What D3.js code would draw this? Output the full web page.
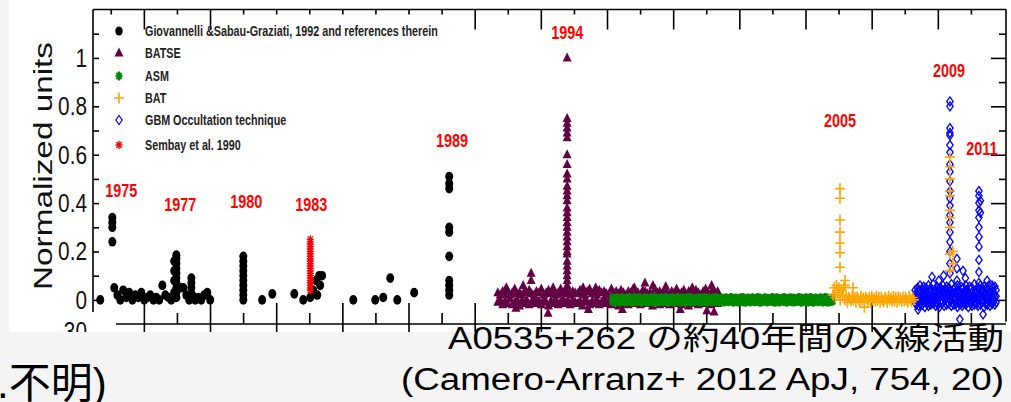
<!DOCTYPE html>
<html>
<head>
<meta charset="utf-8">
<script src="https://cdn.jsdelivr.net/npm/d3@7/dist/d3.min.js"></script>
<style>
  html, body { margin: 0; padding: 0; background: #f4f4f4; }
  svg { display: block; }
</style>
</head>
<body>
<div id="chart-area"></div>
<script>
// Giovannelli & Sabau-Graziati 1992 : [year, normalized flux]
const gioPoints = [
    [1974.80, 0.00],
    [1975.30, 0.34], [1975.30, 0.32], [1975.30, 0.30], [1975.30, 0.24],
    [1975.38, 0.05], [1975.51, 0.02], [1975.63, 0.00], [1975.75, 0.04], [1975.88, 0.01],
    [1976.00, 0.03], [1976.13, 0.00], [1976.25, 0.02], [1976.38, 0.01], [1976.50, 0.03],
    [1976.62, 0.00], [1976.75, 0.01], [1976.87, 0.02], [1977.00, 0.00], [1977.12, 0.01],
    [1977.24, 0.00], [1977.37, 0.06], [1977.49, 0.02], [1977.62, 0.01], [1977.74, 0.00],
    [1977.86, 0.16], [1977.86, 0.12], [1977.86, 0.08], [1977.86, 0.03],
    [1977.95, 0.185], [1977.95, 0.17], [1977.95, 0.15], [1977.95, 0.13], [1977.95, 0.11],
    [1977.95, 0.09], [1977.95, 0.07], [1977.95, 0.05], [1977.95, 0.03], [1977.95, 0.01],
    [1978.11, 0.05], [1978.24, 0.05], [1978.36, 0.02], [1978.48, 0.00],
    [1978.57, 0.09], [1978.57, 0.07], [1978.57, 0.05],
    [1978.61, 0.02], [1978.73, 0.00], [1978.86, 0.01], [1978.98, 0.00], [1979.10, 0.02],
    [1979.23, 0.03], [1979.35, 0.00],
    [1980.72, 0.18], [1980.72, 0.16], [1980.72, 0.14], [1980.72, 0.12], [1980.72, 0.10],
    [1980.72, 0.08], [1980.72, 0.06], [1980.72, 0.04], [1980.72, 0.02], [1980.72, 0.00],
    [1981.50, 0.00], [1981.92, 0.025], [1982.83, 0.025], [1983.20, 0.00],
    [1983.49, 0.01], [1983.61, 0.04], [1983.74, 0.08], [1983.78, 0.02], [1983.86, 0.10],
    [1983.90, 0.06], [1983.98, 0.10],
    [1985.27, 0.00], [1986.18, 0.00], [1986.51, 0.01], [1986.80, 0.09], [1987.09, 0.00],
    [1987.79, 0.03],
    [1989.24, 0.51], [1989.24, 0.48], [1989.24, 0.46], [1989.24, 0.30], [1989.24, 0.28],
    [1989.24, 0.18], [1989.24, 0.08], [1989.24, 0.06], [1989.24, 0.04], [1989.24, 0.02]
];

// Sembay et al. 1990 (1983 outburst)
const sembayYear = 1983.49;
const sembayValues = [0.25, 0.24, 0.23, 0.22, 0.21, 0.20, 0.19, 0.18, 0.17, 0.16, 0.15,
    0.14, 0.13, 0.12, 0.11, 0.10, 0.09, 0.08, 0.07, 0.06, 0.05, 0.04];

// BATSE monitoring, upper and lower envelope of the band, one value every batseDt years
const batseT0 = 1991.25, batseDt = 0.1;
const batseUpper = [0.03, 0.02, 0.035, 0.025, 0.04, 0.02, 0.03, 0.045, 0.025, 0.03,
    0.02, 0.035, 0.03, 0.04, 0.025, 0.02, 0.035, 0.03, 0.045, 0.02,
    0.03, 0.04, 0.025, 0.035, 0.02, 0.03, 0.045, 0.025, 0.03, 0.04,
    0.02, 0.035, 0.03, 0.025, 0.04, 0.03, 0.02, 0.035, 0.045, 0.025,
    0.03, 0.02, 0.04, 0.03, 0.035, 0.025, 0.02, 0.045, 0.03, 0.035,
    0.025, 0.04, 0.03, 0.02, 0.035, 0.03, 0.045, 0.025, 0.03, 0.02,
    0.04, 0.035, 0.025, 0.03, 0.02, 0.045, 0.03, 0.035, 0.025, 0.04,
    0.03, 0.02, 0.035, 0.03, 0.045, 0.025, 0.03, 0.04, 0.02, 0.035,
    0.03, 0.025, 0.04, 0.03, 0.02, 0.035, 0.045, 0.03, 0.025, 0.04,
    0.03, 0.035];
const batseLower = [-0.01, 0.0, -0.02, -0.005, -0.015, 0.005, -0.02, -0.01, 0.0, -0.025,
    -0.005, -0.015, 0.0, -0.02, -0.01, 0.005, -0.015, -0.005, -0.02, 0.0,
    -0.01, -0.025, -0.005, -0.015, 0.0, -0.02, -0.01, 0.005, -0.015, -0.005,
    -0.02, 0.0, -0.01, -0.015, -0.005, -0.025, 0.0, -0.01, -0.02, -0.005,
    -0.015, 0.0, -0.02, -0.01, 0.005, -0.015, -0.005, -0.02, 0.0, -0.01,
    -0.025, -0.005, -0.015, 0.0, -0.02, -0.01, 0.005, -0.015, -0.005, -0.02,
    0.0, -0.01, -0.015, -0.005, -0.025, 0.0, -0.01, -0.02, -0.005, -0.015,
    0.0, -0.02, -0.01, 0.005, -0.015, -0.005, -0.02, 0.0, -0.01, -0.025,
    -0.005, -0.015, 0.0, -0.02, -0.01, 0.005, -0.015, -0.005, -0.02, 0.0,
    -0.01, -0.015];
const batseFlares = [
    [1994.12, 1.00], [1994.12, 0.75], [1994.12, 0.73], [1994.12, 0.71], [1994.12, 0.69],
    [1994.12, 0.67], [1994.12, 0.60], [1994.12, 0.56], [1994.12, 0.52], [1994.12, 0.50],
    [1994.12, 0.47], [1994.12, 0.45], [1994.12, 0.43], [1994.12, 0.41], [1994.12, 0.38],
    [1994.12, 0.36], [1994.12, 0.34], [1994.12, 0.32], [1994.12, 0.30], [1994.12, 0.28],
    [1994.12, 0.26], [1994.12, 0.24], [1994.12, 0.22], [1994.12, 0.20], [1994.12, 0.19],
    [1994.12, 0.16], [1994.12, 0.14], [1994.12, 0.12], [1994.12, 0.10], [1994.12, 0.08],
    [1994.12, 0.06], [1994.12, 0.05], [1994.12, 0.03],
    [1992.63, 0.11], [1992.63, 0.08], [1992.30, 0.06], [1993.54, 0.05], [1994.78, 0.05],
    [1991.60, 0.05], [1995.30, 0.05], [1996.90, 0.05], [1998.20, 0.055], [1999.30, 0.05],
    [2000.10, 0.06], [1997.34, 0.07], [1997.67, 0.06],
    [1993.33, -0.055], [1992.00, -0.035], [1995.00, -0.04], [1996.40, -0.04],
    [1998.80, -0.04], [1999.90, -0.045], [2000.20, -0.05]
];

// RXTE/ASM monitoring
const asmT0 = 1996.0, asmDt = 0.1;
const asmUpper = [0.008, 0.006, 0.01, 0.007, 0.009, 0.005, 0.008, 0.01, 0.006, 0.009,
    0.007, 0.01, 0.005, 0.008, 0.009, 0.006, 0.01, 0.007, 0.008, 0.005,
    0.009, 0.007, 0.01, 0.006, 0.008, 0.009, 0.005, 0.01, 0.007, 0.008,
    0.006, 0.009, 0.01, 0.007, 0.005, 0.008, 0.009, 0.006, 0.01, 0.007,
    0.008, 0.005, 0.009, 0.01, 0.006, 0.008, 0.007, 0.009, 0.005, 0.01,
    0.007, 0.008, 0.006, 0.009, 0.01, 0.005, 0.008, 0.007, 0.009, 0.006,
    0.01, 0.008, 0.005, 0.009, 0.007, 0.006, 0.01, 0.008, 0.009, 0.005,
    0.007, 0.01, 0.006, 0.008, 0.009, 0.007, 0.005, 0.01, 0.008, 0.006,
    0.009, 0.007, 0.01, 0.005, 0.008, 0.006, 0.009, 0.007, 0.01, 0.008,
    0.006, 0.009];
const asmLower = [-0.007, -0.009, -0.005, -0.01, -0.006, -0.008, -0.009, -0.005, -0.01, -0.007,
    -0.008, -0.006, -0.01, -0.005, -0.009, -0.007, -0.006, -0.01, -0.008, -0.009,
    -0.005, -0.008, -0.007, -0.01, -0.006, -0.009, -0.008, -0.005, -0.01, -0.007,
    -0.009, -0.006, -0.008, -0.01, -0.007, -0.005, -0.009, -0.008, -0.006, -0.01,
    -0.007, -0.009, -0.005, -0.008, -0.01, -0.006, -0.009, -0.007, -0.008, -0.005,
    -0.01, -0.006, -0.009, -0.007, -0.008, -0.01, -0.005, -0.009, -0.006, -0.008,
    -0.007, -0.01, -0.008, -0.005, -0.009, -0.007, -0.006, -0.01, -0.008, -0.009,
    -0.005, -0.007, -0.01, -0.006, -0.008, -0.009, -0.007, -0.005, -0.01, -0.008,
    -0.006, -0.009, -0.007, -0.01, -0.005, -0.008, -0.006, -0.009, -0.007, -0.01,
    -0.008, -0.006];

// Swift/BAT monitoring
const batT0 = 2005.12, batDt = 0.05;
const batLevel = [0.02, 0.05, 0.01, 0.06, 0.03, 0.05, 0.0, 0.04, 0.02, 0.05,
    0.0, 0.015, -0.01, 0.01, 0.005, -0.005, 0.015, 0.0, 0.01, -0.01,
    0.012, 0.004, -0.008, 0.015, 0.0, 0.008, -0.03, 0.012, 0.004, -0.006,
    0.01, -0.01, 0.015, 0.0, 0.008, -0.006, 0.015, -0.004, 0.01, -0.01,
    0.012, 0.0, -0.008, 0.01, 0.004, -0.012, 0.015, 0.0, 0.008, -0.006,
    0.015, -0.004, 0.01, -0.01, 0.012, 0.0, 0.008, -0.006, 0.012, -0.004,
    0.01, 0.0, -0.01, 0.015, 0.004, -0.008, 0.01, 0.0];
const batFlares = [
    [2005.41, 0.46], [2005.41, 0.42], [2005.41, 0.33], [2005.41, 0.28], [2005.41, 0.235],
    [2005.41, 0.195], [2005.41, 0.135], [2005.33, 0.04], [2005.62, 0.08], [2005.62, 0.06],
    [2005.95, 0.05],
    [2009.96, 0.59], [2009.96, 0.55], [2009.96, 0.50], [2009.96, 0.45], [2009.96, 0.43],
    [2009.96, 0.37], [2009.96, 0.34], [2009.96, 0.30], [2009.96, 0.19], [2009.96, 0.12],
    [2010.08, 0.20], [2010.08, 0.15]
];

// Fermi/GBM occultation, three layers of the band
const gbmT0 = 2008.52, gbmDt = 0.05;
const gbmUpper = [0.04, 0.03, 0.05, 0.035, 0.06, 0.03, 0.045, 0.055, 0.035, 0.05,
    0.03, 0.06, 0.04, 0.05, 0.035, 0.065, 0.04, 0.03, 0.055, 0.045,
    0.035, 0.05, 0.04, 0.06, 0.03, 0.045, 0.055, 0.035, 0.05, 0.04,
    0.065, 0.03, 0.045, 0.05, 0.035, 0.06, 0.04, 0.03, 0.055, 0.045,
    0.05, 0.035, 0.06, 0.04, 0.03, 0.055, 0.045, 0.05, 0.035, 0.065,
    0.04, 0.03, 0.05, 0.045, 0.06, 0.035, 0.04, 0.055, 0.03, 0.05,
    0.045, 0.06, 0.035, 0.04, 0.05, 0.03, 0.055, 0.04];
const gbmMid = [0.015, 0.005, 0.02, 0.01, 0.025, 0.0, 0.015, 0.03, 0.01, 0.02,
    0.005, 0.025, 0.015, 0.0, 0.02, 0.01, 0.03, 0.005, 0.015, 0.025,
    0.01, 0.02, 0.0, 0.015, 0.03, 0.005, 0.02, 0.01, 0.025, 0.015,
    0.0, 0.02, 0.01, 0.03, 0.005, 0.015, 0.025, 0.01, 0.02, 0.0,
    0.015, 0.03, 0.005, 0.02, 0.01, 0.025, 0.015, 0.0, 0.02, 0.01,
    0.03, 0.005, 0.015, 0.025, 0.01, 0.02, 0.0, 0.015, 0.03, 0.005,
    0.02, 0.01, 0.025, 0.015, 0.0, 0.02, 0.01, 0.015];
const gbmLower = [-0.01, -0.02, -0.005, -0.025, -0.015, 0.0, -0.02, -0.01, -0.03, -0.005,
    -0.015, -0.025, -0.01, -0.02, 0.0, -0.015, -0.005, -0.025, -0.01, -0.02,
    -0.03, -0.005, -0.015, -0.01, -0.025, 0.0, -0.02, -0.01, -0.015, -0.005,
    -0.025, -0.01, -0.02, 0.0, -0.015, -0.03, -0.005, -0.02, -0.01, -0.025,
    -0.015, -0.005, -0.02, -0.01, -0.03, 0.0, -0.015, -0.025, -0.005, -0.02,
    -0.01, -0.015, -0.025, 0.0, -0.02, -0.01, -0.005, -0.03, -0.015, -0.01,
    -0.02, -0.005, -0.025, -0.01, -0.015, 0.0, -0.02, -0.01];
const gbmFlares = [
    [2009.96, 0.82], [2009.96, 0.80], [2009.96, 0.71], [2009.96, 0.69], [2009.96, 0.68],
    [2009.96, 0.64], [2009.96, 0.61], [2009.96, 0.56], [2009.96, 0.53], [2009.96, 0.49],
    [2009.96, 0.45], [2009.96, 0.42], [2009.96, 0.39], [2009.96, 0.35], [2009.96, 0.32],
    [2009.96, 0.28], [2009.96, 0.24], [2009.96, 0.20], [2009.96, 0.15], [2009.96, 0.11],
    [2010.25, 0.17], [2010.25, 0.13], [2010.25, 0.08], [2009.22, 0.095],
    [2009.50, 0.08], [2009.70, 0.10], [2010.50, 0.12], [2010.60, 0.09], [2011.50, 0.08],
    [2011.70, 0.06],
    [2011.16, 0.45], [2011.16, 0.43], [2011.16, 0.40], [2011.16, 0.37], [2011.16, 0.34],
    [2011.16, 0.30], [2011.16, 0.26], [2011.16, 0.22], [2011.16, 0.165], [2011.16, 0.115],
    [2011.16, 0.07], [2011.22, 0.41], [2011.22, 0.36],
    [2010.37, -0.08], [2011.33, -0.06], [2008.64, -0.04]
];

// outburst annotations
const yearLabels = ['1975', '1977', '1980', '1983', '1989', '1994', '2005', '2009', '2011'];
const labelYears = [1975.67, 1978.11, 1980.84, 1983.53, 1989.36, 1994.12, 2005.41, 2009.92, 2011.28];
const labelValues = [0.425, 0.367, 0.38, 0.367, 0.632, 1.078, 0.714, 0.921, 0.599];

const legendNames = ['Giovannelli &Sabau-Graziati, 1992 and references therein', 'BATSE', 'ASM',
    'BAT', 'GBM Occultation technique', 'Sembay et al. 1990'];

// axis ticks (MJD, every 500 d)
const mjdTicks = d3.range(42500, 56000, 500);
const topLongMjd = [43000, 44000, 48000, 49000, 50000, 51000, 52000, 53000, 54000, 55000];
const yTickValues = [0, 0.2, 0.4, 0.6, 0.8, 1];
const yMinorValues = [0.1, 0.3, 0.5, 0.7, 0.9, 1.1];


window.addEventListener('DOMContentLoaded', (event) => {

    const mjdToYear = (m) => 1858.877 + m / 365.25;
    const series = (t0, dt, vals) => vals.map((v, i) => [t0 + i * dt, v]);
    const plotFont = '"Liberation Sans", Arial, sans-serif';

    // the figure is squeezed horizontally, so are its texts
    const squeeze = (sel, k) => sel.each(function () {
        const t = d3.select(this);
        const tx = +t.attr('x') || 0;
        const ty = +t.attr('y') || 0;
        t.attr('x', 0).attr('y', 0)
            .attr('transform', `translate(${tx},${ty}) scale(${k},1)`);
    });

    const svg = d3.select('#chart-area')
        .append('svg')
        .attr('width', 1011)
        .attr('height', 402);

    svg.append('rect').attr('width', 1011).attr('height', 402).attr('fill', '#f4f4f4');
    svg.append('defs').append('clipPath').attr('id', 'panel')
        .append('rect').attr('x', 9).attr('y', 0).attr('width', 1002).attr('height', 332);
    svg.append('rect').attr('x', 9).attr('y', 0).attr('width', 1002).attr('height', 332).attr('fill', '#fff');

    const chart = svg.append('g').attr('clip-path', 'url(#panel)');

    const x = d3.scaleLinear().domain([1974.5, 2012.28]).range([93, 1006]);
    const y = d3.scaleLinear().domain([-0.05, 1.2]).range([312, 9.5]);

    // frame
    const line = (x1, y1, x2, y2) => chart.append('line')
        .attr('x1', x1).attr('y1', y1).attr('x2', x2).attr('y2', y2)
        .attr('stroke', '#000').attr('stroke-width', 1.6);
    line(x.range()[0], y(1.2), x.range()[1], y(1.2));
    line(x.range()[0], y(1.2), x.range()[0], y(-0.05));
    line(x.range()[1], y(1.2), x.range()[1], y(-0.09));
    line(116, 324, x.range()[1], 324);

    const tidy = (g) => {
        g.select('.domain').remove();
        g.selectAll('.tick line').attr('stroke', '#000').attr('stroke-width', 1.6);
    };

    // left axis
    chart.append('g')
        .attr('transform', `translate(${x.range()[0]},0)`)
        .call(d3.axisLeft(y).tickValues(yTickValues).tickSize(-6).tickPadding(6).tickFormat((d) => String(d)))
        .call(tidy)
        .selectAll('text')
            .attr('font-family', plotFont)
            .attr('font-size', 26)
            .attr('fill', '#111')
            .call(squeeze, 0.8);
    chart.append('g')
        .attr('transform', `translate(${x.range()[0]},0)`)
        .call(d3.axisLeft(y).tickValues(yMinorValues).tickSize(-6).tickFormat(''))
        .call(tidy);

    // leftover label of the lower panel
    chart.append('text')
        .attr('x', 87).attr('y', 340)
        .attr('text-anchor', 'end')
        .attr('font-family', plotFont)
        .attr('font-size', 26)
        .attr('fill', '#111')
        .text('-30')
        .call(squeeze, 0.8);

    // right axis
    chart.append('g')
        .attr('transform', `translate(${x.range()[1]},0)`)
        .call(d3.axisRight(y).tickValues(yTickValues).tickSize(-15).tickFormat(''))
        .call(tidy);
    chart.append('g')
        .attr('transform', `translate(${x.range()[1]},0)`)
        .call(d3.axisRight(y).tickValues(yMinorValues).tickSize(-7).tickFormat(''))
        .call(tidy);

    // top axis (MJD)
    const topShort = mjdTicks.filter((m) => topLongMjd.indexOf(m) < 0).map(mjdToYear);
    chart.append('g')
        .attr('transform', `translate(0,${y(1.2)})`)
        .call(d3.axisBottom(x).tickValues(topLongMjd.map(mjdToYear)).tickSize(20).tickFormat(''))
        .call(tidy);
    chart.append('g')
        .attr('transform', `translate(0,${y(1.2)})`)
        .call(d3.axisBottom(x).tickValues(topShort).tickSize(5).tickFormat(''))
        .call(tidy);

    // bottom axis of the lower panel
    const botLong = mjdTicks.filter((m) => m % 1000 === 0).map(mjdToYear);
    const botShort = mjdTicks.filter((m) => m % 1000 !== 0 && m > 43000).map(mjdToYear);
    chart.append('g')
        .attr('transform', 'translate(0,324)')
        .call(d3.axisTop(x).tickValues(botLong).tickSize(21).tickFormat(''))
        .call(tidy);
    chart.append('g')
        .attr('transform', 'translate(0,324)')
        .call(d3.axisBottom(x).tickValues(botLong).tickSize(10).tickFormat(''))
        .call(tidy);
    chart.append('g')
        .attr('transform', 'translate(0,324)')
        .call(d3.axisTop(x).tickValues(botShort).tickSize(11).tickFormat(''))
        .call(tidy);

    // marker shapes
    const triangle = 'M0,-5.5L4.5,3.5L-4.5,3.5Z';
    const plus = 'M-5,0H5M0,-5.5V5.5';
    const diamond = 'M0,-4.5L3.2,0L0,4.5L-3.2,0Z';
    const asmStar = 'M-3.5,0H3.5M0,-4.5V4.5M-2.6,-3.2L2.6,3.2M-2.6,3.2L2.6,-3.2';
    const redStar = 'M-3.5,0H3.5M0,-4.2V4.2M-2.6,-3L2.6,3M-2.6,3L2.6,-3';

    const pos = (d) => `translate(${x(d[0])},${y(d[1])})`;

    // Giovannelli
    chart.append('g').selectAll('ellipse')
        .data(gioPoints)
        .enter().append('ellipse')
            .attr('cx', (d) => x(d[0]))
            .attr('cy', (d) => y(d[1]))
            .attr('rx', 4)
            .attr('ry', 4.8)
            .attr('fill', '#000');

    // Sembay
    chart.append('g').selectAll('path')
        .data(sembayValues.map((v) => [sembayYear, v]))
        .enter().append('path')
            .attr('d', redStar)
            .attr('transform', pos)
            .attr('fill', 'none')
            .attr('stroke', '#ff0000')
            .attr('stroke-width', 1.3);

    // BATSE
    const batseData = series(batseT0, batseDt, batseUpper)
        .concat(series(batseT0, batseDt, batseLower))
        .concat(batseFlares);
    chart.append('g').selectAll('path')
        .data(batseData)
        .enter().append('path')
            .attr('d', triangle)
            .attr('transform', pos)
            .attr('fill', '#640044');

    // ASM
    const asmData = series(asmT0, asmDt, asmUpper).concat(series(asmT0, asmDt, asmLower));
    chart.append('g').selectAll('path')
        .data(asmData)
        .enter().append('path')
            .attr('d', asmStar)
            .attr('transform', pos)
            .attr('fill', 'none')
            .attr('stroke', '#008a00')
            .attr('stroke-width', 2.4);

    // GBM
    const gbmData = series(gbmT0, gbmDt, gbmUpper)
        .concat(series(gbmT0, gbmDt, gbmMid))
        .concat(series(gbmT0, gbmDt, gbmLower))
        .concat(gbmFlares);
    chart.append('g').selectAll('path')
        .data(gbmData)
        .enter().append('path')
            .attr('d', diamond)
            .attr('transform', pos)
            .attr('fill', 'none')
            .attr('stroke', '#0000ff')
            .attr('stroke-width', 1.3);

    // BAT
    chart.append('g').selectAll('path')
        .data(series(batT0, batDt, batLevel).concat(batFlares))
        .enter().append('path')
            .attr('d', plus)
            .attr('transform', pos)
            .attr('fill', 'none')
            .attr('stroke', '#ffa500')
            .attr('stroke-width', 1.6);

    // year annotations
    chart.append('g').selectAll('text')
        .data(yearLabels)
        .enter().append('text')
            .attr('x', (d, i) => x(labelYears[i]))
            .attr('y', (d, i) => y(labelValues[i]))
            .attr('text-anchor', 'middle')
            .attr('font-family', plotFont)
            .attr('font-size', 18)
            .attr('font-weight', 'bold')
            .attr('fill', '#ff0000')
            .text((d) => d)
            .call(squeeze, 0.8);

    // legend
    const legendRowY = [31, 53, 76, 98, 120, 145];
    const legend = chart.append('g');
    legend.append('ellipse').attr('cx', 119).attr('cy', legendRowY[0]).attr('rx', 3.7).attr('ry', 4.6).attr('fill', '#000');
    legend.append('path').attr('d', triangle).attr('transform', `translate(119,${legendRowY[1]})`).attr('fill', '#640044');
    legend.append('path').attr('d', asmStar).attr('transform', `translate(119,${legendRowY[2]})`)
        .attr('fill', 'none').attr('stroke', '#008a00').attr('stroke-width', 2);
    legend.append('path').attr('d', plus).attr('transform', `translate(119,${legendRowY[3]})`)
        .attr('fill', 'none').attr('stroke', '#ffa500').attr('stroke-width', 1.6);
    legend.append('path').attr('d', diamond).attr('transform', `translate(119,${legendRowY[4]})`)
        .attr('fill', 'none').attr('stroke', '#0000ff').attr('stroke-width', 1.2);
    legend.append('path').attr('d', redStar).attr('transform', `translate(119,${legendRowY[5]})`)
        .attr('fill', 'none').attr('stroke', '#ff0000').attr('stroke-width', 1.3);
    legend.selectAll('text')
        .data(legendNames)
        .enter().append('text')
            .attr('x', 145)
            .attr('y', (d, i) => legendRowY[i] + 5)
            .attr('font-family', plotFont)
            .attr('font-size', 14)
            .attr('font-weight', 'bold')
            .attr('fill', '#222')
            .text((d) => d)
            .call(squeeze, 0.77);

    // y axis title
    chart.append('text')
        .attr('transform', 'translate(52,290) rotate(-90)')
        .attr('font-family', plotFont)
        .attr('font-size', 25)
        .attr('textLength', 248)
        .attr('lengthAdjust', 'spacingAndGlyphs')
        .attr('fill', '#111')
        .text('Normalized units');

    // slide texts
    const slideFont = '"Liberation Sans", Arial, "Noto Sans CJK JP", sans-serif';
    svg.append('text')
        .attr('x', 1004).attr('y', 349)
        .attr('text-anchor', 'end')
        .attr('font-family', slideFont)
        .attr('font-size', 31)
        .attr('textLength', 556)
        .attr('lengthAdjust', 'spacingAndGlyphs')
        .attr('fill', '#000')
        .text('A0535+262 の約40年間のX線活動');
    svg.append('text')
        .attr('x', 1004).attr('y', 390)
        .attr('text-anchor', 'end')
        .attr('font-family', slideFont)
        .attr('font-size', 31)
        .attr('textLength', 603)
        .attr('lengthAdjust', 'spacingAndGlyphs')
        .attr('fill', '#000')
        .text('(Camero-Arranz+ 2012 ApJ, 754, 20)');
    svg.append('text')
        .attr('x', -3).attr('y', 398)
        .attr('font-family', slideFont)
        .attr('font-size', 42)
        .attr('fill', '#000')
        .text('.不明)');

}); // End of document ready.
</script>
</body>
</html>
